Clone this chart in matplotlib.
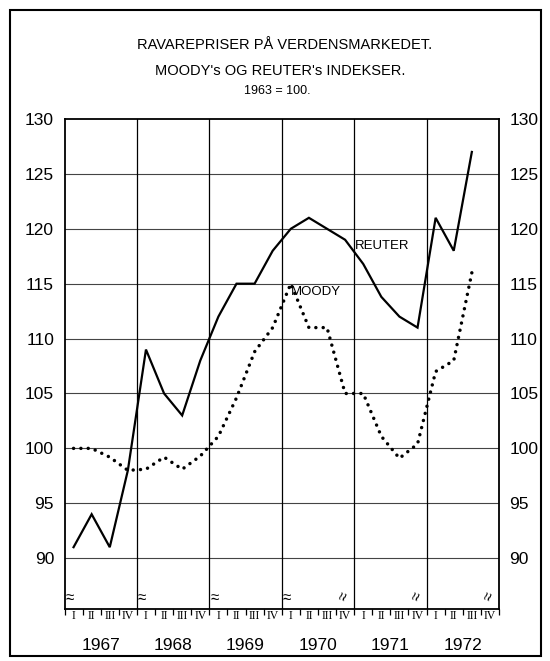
import numpy as np
import matplotlib
matplotlib.use("Agg")
import matplotlib.pyplot as plt
from matplotlib.patches import Rectangle
import matplotlib.transforms as mtransforms

plt.rcParams['font.family'] = ['Liberation Sans', 'DejaVu Sans']

# ---- data ----
years = ['1967', '1968', '1969', '1970', '1971', '1972']
quarter_labels = ['I', 'II', 'III', 'IV']
reuter = [91, 94, 91, 98, 109, 105, 103, 108, 112, 115, 115, 118,
          120, 121, 120, 119, 116.8, 113.8, 112, 111, 121, 118, 127]
moody = [100, 100, 99.2, 98, 98.1, 99.2, 98.1, 99.3, 101.1, 104.6, 108.8, 111,
         115, 111, 111, 105, 105, 101.1, 99.1, 100.4, 107, 108, 116]
yticks = [90, 95, 100, 105, 110, 115, 120, 125, 130]
title_lines = ['RAVAREPRISER PÅ VERDENSMARKEDET.', "MOODY's OG REUTER's INDEKSER."]
subtitle = '1963 = 100.'

W, H = 550, 661
fig = plt.figure(figsize=(W / 100, H / 100), dpi=100)
L, R, T, B = 64.5, 499, 119, 609
ax = fig.add_axes([L / W, 1 - B / H, (R - L) / W, (B - T) / H])

nq = len(years) * 4
x = np.arange(len(reuter)) + 0.5

ax.plot(x, reuter, color='black', lw=1.6, solid_joinstyle='miter', zorder=3)
ax.plot(x, moody, color='black', lw=2.5, linestyle=(0, (0.01, 2.1)),
        dash_capstyle='round', zorder=3)

ax.set_xlim(0, nq)
ax.set_ylim(85.37, 130)

# grid
for v in yticks[:-1]:
    ax.axhline(v, color='#444444', lw=0.8, zorder=1)
for i in range(1, len(years)):
    ax.axvline(i * 4, color='black', lw=0.9, zorder=1)

for s in ax.spines.values():
    s.set_linewidth(1.3)

ax.set_yticks(yticks)
ax.set_yticklabels([str(v) for v in yticks])
ax.tick_params(axis='y', length=0, labelsize=12.5, pad=7.5,
               left=True, right=True, labelleft=True, labelright=True)

# x ticks: quarter boundaries (major), quarter centers labelled (minor)
ax.set_xticks(np.arange(0, nq + 1))
ax.set_xticklabels([])
ax.tick_params(axis='x', which='major', length=4, width=0.9, direction='out')
ax.set_xticks(np.arange(nq) + 0.5, minor=True)
ax.set_xticklabels(quarter_labels * len(years), minor=True,
                   fontsize=8.5, family=['Liberation Serif', 'DejaVu Serif'])
ax.tick_params(axis='x', which='minor', length=0, pad=1.0)

trans = mtransforms.blended_transform_factory(ax.transData, ax.transAxes)
for i, yr in enumerate(years):
    ax.text(i * 4 + 2, -0.075, yr, transform=trans, ha='center', va='center',
            fontsize=12.5)

# break symbols
for i in range(0, 4):
    ax.text(i * 4 + 0.06, 0.022, '≈', transform=trans, ha='left', va='center',
            fontsize=11)
for i in range(4, len(years) + 1):
    ax.text(i * 4 - 0.1, 0.026, '≈', transform=trans, ha='right', va='center',
            fontsize=11, rotation=70)

# series labels
ax.text(17.55, 118.45, 'REUTER', ha='center', va='center', fontsize=9.5)
ax.text(13.9, 114.25, 'MOODY', ha='center', va='center', fontsize=9.5)

# titles
fig.text(285 / W, 1 - 45 / H, title_lines[0], ha='center', va='center', fontsize=10.5)
fig.text(280 / W, 1 - 71 / H, title_lines[1], ha='center', va='center', fontsize=10.5)
fig.text(277 / W, 1 - 91 / H, subtitle, ha='center', va='center', fontsize=9)

# outer border
fig.add_artist(Rectangle((10 / W, 1 - 656 / H), (541 - 10) / W, (656 - 10) / H,
                         transform=fig.transFigure, fill=False, lw=1.5,
                         edgecolor='black'))

fig.savefig('out.png', dpi=100)
